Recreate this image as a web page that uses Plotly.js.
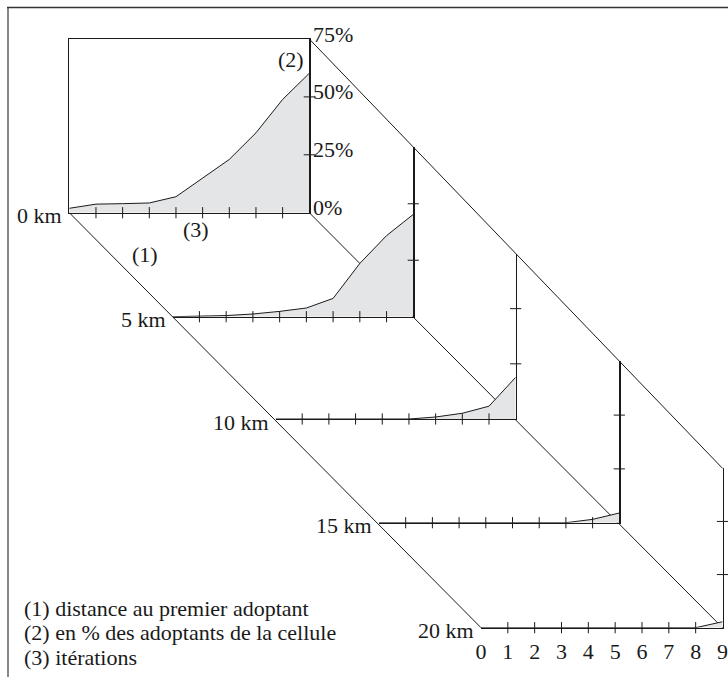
<!DOCTYPE html>
<html>
<head>
<meta charset="utf-8">
<script src="https://cdn.plot.ly/plotly-3.0.1.min.js"></script>
<style>html,body{margin:0;padding:0;background:#fff;}#chart{width:728px;height:677px;}</style>
</head>
<body>
<div id="chart"></div>
<script>
// ---- data ----
const iterations = [0, 1, 2, 3, 4, 5, 6, 7, 8, 9];
const iterationLabels = ['0', '1', '2', '3', '4', '5', '6', '7', '8', '9'];
const distances = ['0 km', '5 km', '10 km', '15 km', '20 km'];
const adopt0km  = [1.9, 3.7, 3.9, 4.2, 6.9, 15.1, 23.0, 34.5, 48.9, 60.2];
const adopt5km  = [0, 0.15, 0.5, 1.2, 2.35, 3.85, 8.1, 23.6, 35.9, 45.3];
const adopt10km = [0, 0, 0, 0, 0, 0, 0.9, 2.6, 5.8, 18.9];
const adopt15km = [0, 0, 0, 0, 0, 0, 0, 0, 1.55, 4.5];
const adopt20km = [0, 0, 0, 0, 0, 0, 0, 0, 0, 2.8];
const pctTicks = [0, 25, 50, 75];
const pctLabels = ['0%', '25%', '50%', '75%'];
const notes = ['(1) distance au premier adoptant', '(2) en % des adoptants de la cellule', '(3) itérations'];

const series = [adopt0km, adopt5km, adopt10km, adopt15km, adopt20km];

// ---- layout geometry (pixels) ----
const W = 728, H = 677;
const panels = [
  {x0: 69.3,  x1: 309.3, base: 212.7, h: 173.7},
  {x0: 172.7, x1: 413.3, base: 316.7, h: 169.4},
  {x0: 275.5, x1: 515.7, base: 419.0, h: 165.5},
  {x0: 379.0, x1: 619.3, base: 522.7, h: 161.4},
  {x0: 481.0, x1: 722.5, base: 627.7, h: 159.4}
];
const FONT = 'Liberation Serif';
const FS = 22;
const INK = '#1a1a1a';
const FILL = '#e4e5e7';
const px = v => v / W;
const py = v => 1 - v / H;

const traces = [];
const layout = {
  width: W, height: H,
  margin: {l: 0, r: 0, t: 0, b: 0, pad: 0},
  paper_bgcolor: '#fff',
  plot_bgcolor: 'rgba(0,0,0,0)',
  showlegend: false,
  font: {family: FONT, size: FS, color: INK},
  shapes: [],
  annotations: []
};

panels.forEach((p, k) => {
  const sx = k === 0 ? '' : String(k + 1);
  const xa = 'x' + sx, ya = 'y' + sx;
  layout['xaxis' + sx] = {
    domain: [px(p.x0), px(p.x1)], range: [0, 9], anchor: ya,
    showline: true, linecolor: INK, linewidth: 1.2, mirror: k === 0,
    showgrid: false, zeroline: false, ticks: '',
    showticklabels: k === 4, tickvals: iterations, ticktext: iterationLabels,
    ticklabelstandoff: 4,
    tickfont: {family: FONT, size: FS, color: INK}, fixedrange: true
  };
  layout['yaxis' + sx] = {
    domain: [py(p.base), py(p.base - p.h)], range: [0, 75], anchor: xa,
    side: 'right', showline: true, linecolor: INK, linewidth: 1.2, mirror: k === 0,
    showgrid: false, zeroline: false, ticks: '', showticklabels: false, fixedrange: true
  };
  // area
  traces.push({
    x: iterations, y: series[k], xaxis: xa, yaxis: ya,
    type: 'scatter', mode: 'lines', fill: 'tozeroy', fillcolor: FILL,
    line: {color: INK, width: 1}, hoverinfo: 'skip'
  });
  // crossing ticks on the iteration axis
  const inner = iterations.slice(1, -1);
  traces.push({
    x: inner, y: inner.map(() => 0), xaxis: xa, yaxis: ya,
    type: 'scatter', mode: 'markers', cliponaxis: false,
    marker: {symbol: 'line-ns-open', size: 8, color: INK, line: {color: INK, width: 1}},
    hoverinfo: 'skip'
  });
  // crossing ticks on the percentage axis
  traces.push({
    x: [9, 9], y: pctTicks.slice(1, 3), xaxis: xa, yaxis: ya,
    type: 'scatter', mode: 'markers', cliponaxis: false,
    marker: {symbol: 'line-ew-open', size: 8, color: INK, line: {color: INK, width: 1}},
    hoverinfo: 'skip'
  });
  // distance label
  layout.annotations.push({
    xref: xa, yref: ya, x: 0, y: 0, text: distances[k], showarrow: false,
    xanchor: 'right', yanchor: 'middle', xshift: -5, yshift: -3,
    font: {family: FONT, size: FS, color: INK}
  });
});

// percentage labels of the front panel
pctTicks.forEach((v, i) => {
  layout.annotations.push({
    xref: 'x', yref: 'y', x: 9, y: v, text: pctLabels[i], showarrow: false,
    xanchor: 'left', yanchor: 'middle', xshift: 2, yshift: 5,
    font: {family: FONT, size: FS, color: INK}
  });
});

// (1) (2) (3) markers
const callouts = [
  {t: '(1)', x: 145, y: 255},
  {t: '(2)', x: 290.5, y: 60},
  {t: '(3)', x: 196, y: 229}
];
callouts.forEach(c => layout.annotations.push({
  xref: 'paper', yref: 'paper', x: px(c.x), y: py(c.y), text: c.t, showarrow: false,
  xanchor: 'center', yanchor: 'middle', font: {family: FONT, size: FS, color: INK}
}));

// notes
notes.forEach((t, i) => layout.annotations.push({
  xref: 'paper', yref: 'paper', x: px(22), y: py(608 + i * 24.5), text: t, showarrow: false,
  xanchor: 'left', yanchor: 'middle', font: {family: FONT, size: FS, color: INK}
}));

// connecting diagonals (from panel geometry)
const first = panels[0], last = panels[panels.length - 1];
const diag = (ax, ay, bx, by) => ({
  type: 'line', xref: 'paper', yref: 'paper', layer: 'below',
  x0: px(ax), y0: py(ay), x1: px(bx), y1: py(by),
  line: {color: INK, width: 1}
});
layout.shapes.push(diag(first.x0, first.base, last.x0, last.base));
layout.shapes.push(diag(first.x1, first.base, last.x1, last.base));
layout.shapes.push(diag(first.x1, first.base - first.h, last.x1, last.base - last.h));
// outer frame (left and top)
layout.shapes.push({type: 'line', xref: 'paper', yref: 'paper', layer: 'below',
  x0: px(8), y0: py(7), x1: px(8), y1: 0, line: {color: '#888', width: 2}});
layout.shapes.push({type: 'line', xref: 'paper', yref: 'paper', layer: 'below',
  x0: px(7), y0: py(7.5), x1: 1, y1: py(7.5), line: {color: '#333', width: 1.5}});

Plotly.newPlot('chart', traces, layout, {displayModeBar: false, staticPlot: true});
</script>
</body>
</html>
